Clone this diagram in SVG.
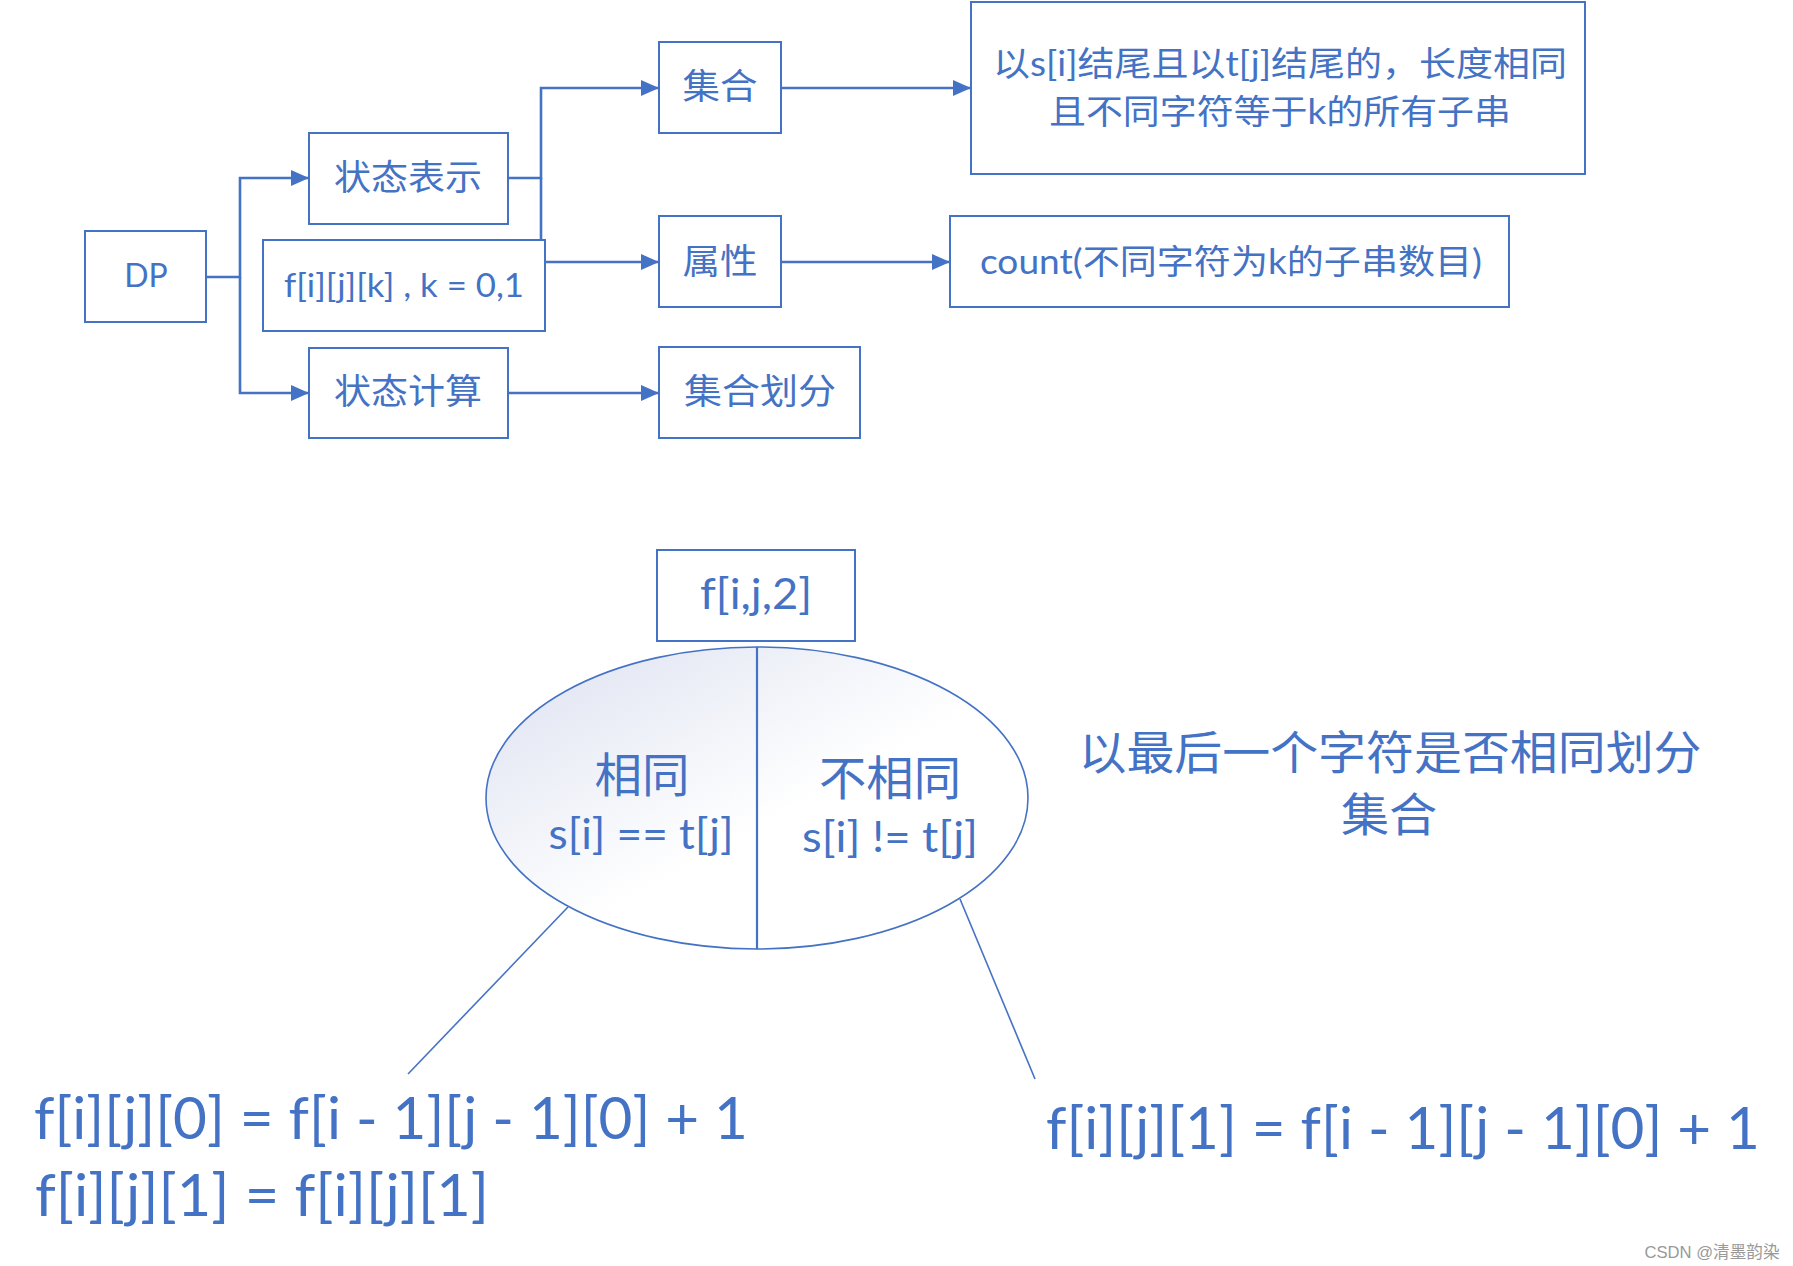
<svg xmlns="http://www.w3.org/2000/svg" width="1793" height="1266" viewBox="0 0 1793 1266">
<style>
.box{fill:#fff;stroke:#4472C4;stroke-width:2}
.t{fill:#4472C4;font-family:Lato,"Noto Sans CJK SC",sans-serif;text-anchor:middle}
.c{fill:none;stroke:#4472C4;stroke-width:2.6}
.thin{fill:none;stroke:#4472C4;stroke-width:1.6}
</style>
<defs>
<marker id="arr" viewBox="0 0 18 16" refX="18" refY="8" markerWidth="18" markerHeight="16" markerUnits="userSpaceOnUse" orient="auto">
<path d="M0,0 L18,8 L0,16 Z" fill="#4472C4"/>
</marker>
<linearGradient id="eg" x1="0" y1="0" x2="1" y2="1">
<stop offset="0" stop-color="#DCE1F0"/>
<stop offset="0.55" stop-color="#FFFFFF"/>
</linearGradient>
</defs>
<rect width="1793" height="1266" fill="#fff"/>

<g id="connectors">
<path class="c" d="M206,277 H240 V178 H309" marker-end="url(#arr)"/>
<path class="c" d="M240,277 V393 H309" marker-end="url(#arr)"/>
<path class="c" d="M508,178 H541 V88 H659" marker-end="url(#arr)"/>
<path class="c" d="M541,178 V240"/>
<path class="c" d="M545,262 H659" marker-end="url(#arr)"/>
<path class="c" d="M508,393 H659" marker-end="url(#arr)"/>
<path class="c" d="M781,88 H971" marker-end="url(#arr)"/>
<path class="c" d="M781,262 H950" marker-end="url(#arr)"/>
<path class="thin" d="M568,907 L408,1074"/>
<path class="thin" d="M960,899 L1035,1079"/>
</g>

<g id="dp"><rect class="box" x="85" y="231" width="121" height="91"/><text class="t" x="146" y="287" font-size="32">DP</text></g>
<g id="state-rep"><rect class="box" x="309" y="133" width="199" height="91"/><text class="t" x="408" y="190" font-size="35" textLength="148" lengthAdjust="spacingAndGlyphs">状态表示</text></g>
<g id="fdef"><rect class="box" x="263" y="240" width="282" height="91"/><text class="t" x="404" y="297" font-size="33" textLength="240" lengthAdjust="spacingAndGlyphs">f[i][j][k] , k = 0,1</text></g>
<g id="state-calc"><rect class="box" x="309" y="348" width="199" height="90"/><text class="t" x="408" y="404" font-size="35" textLength="148" lengthAdjust="spacingAndGlyphs">状态计算</text></g>
<g id="set"><rect class="box" x="659" y="42" width="122" height="91"/><text class="t" x="720" y="99" font-size="35" textLength="75" lengthAdjust="spacingAndGlyphs">集合</text></g>
<g id="attr"><rect class="box" x="659" y="216" width="122" height="91"/><text class="t" x="720" y="274" font-size="35" textLength="75" lengthAdjust="spacingAndGlyphs">属性</text></g>
<g id="partition"><rect class="box" x="659" y="347" width="201" height="91"/><text class="t" x="760" y="404" font-size="35" textLength="152" lengthAdjust="spacingAndGlyphs">集合划分</text></g>
<g id="set-desc"><rect class="box" x="971" y="2" width="614" height="172"/>
<text class="t" x="1280" y="76" font-size="34" textLength="574" lengthAdjust="spacingAndGlyphs">以s[i]结尾且以t[j]结尾的，长度相同</text>
<text class="t" x="1280" y="124" font-size="34" textLength="462" lengthAdjust="spacingAndGlyphs">且不同字符等于k的所有子串</text></g>
<g id="attr-desc"><rect class="box" x="950" y="216" width="559" height="91"/><text class="t" x="1231" y="274" font-size="34" textLength="502" lengthAdjust="spacingAndGlyphs">count(不同字符为k的子串数目)</text></g>

<g id="f2"><rect class="box" x="657" y="550" width="198" height="91"/><text class="t" x="756" y="609" font-size="43" textLength="112" lengthAdjust="spacingAndGlyphs">f[i,j,2]</text></g>
<g id="split">
<ellipse cx="757" cy="798" rx="271" ry="151" fill="url(#eg)" stroke="#4472C4" stroke-width="1.6"/>
<path d="M757,647 V949" stroke="#4472C4" stroke-width="2.2"/>
<text class="t" x="642" y="792" font-size="47" textLength="95" lengthAdjust="spacingAndGlyphs">相同</text>
<text class="t" x="641" y="849" font-size="43" textLength="185" lengthAdjust="spacingAndGlyphs">s[i] == t[j]</text>
<text class="t" x="890" y="795" font-size="47" textLength="142" lengthAdjust="spacingAndGlyphs">不相同</text>
<text class="t" x="890" y="852" font-size="43" textLength="176" lengthAdjust="spacingAndGlyphs">s[i] != t[j]</text>
</g>
<g id="note"><text class="t" x="1390" y="769" font-size="46" textLength="623" lengthAdjust="spacingAndGlyphs">以最后一个字符是否相同划分</text>
<text class="t" x="1389" y="831" font-size="46" textLength="96" lengthAdjust="spacingAndGlyphs">集合</text></g>
<g id="eq-same"><text class="t" x="391" y="1139" font-size="58" textLength="714" lengthAdjust="spacingAndGlyphs">f[i][j][0] = f[i - 1][j - 1][0] + 1</text>
<text class="t" x="262" y="1216" font-size="58" textLength="454" lengthAdjust="spacingAndGlyphs">f[i][j][1] = f[i][j][1]</text></g>
<g id="eq-diff"><text class="t" x="1403" y="1149" font-size="58" textLength="714" lengthAdjust="spacingAndGlyphs">f[i][j][1] = f[i - 1][j - 1][0] + 1</text></g>
<text x="1712" y="1258" font-size="17" fill="#999" font-family="'Liberation Sans','Noto Sans CJK SC',sans-serif" text-anchor="middle" textLength="135" lengthAdjust="spacingAndGlyphs">CSDN @清墨韵染</text>
</svg>
